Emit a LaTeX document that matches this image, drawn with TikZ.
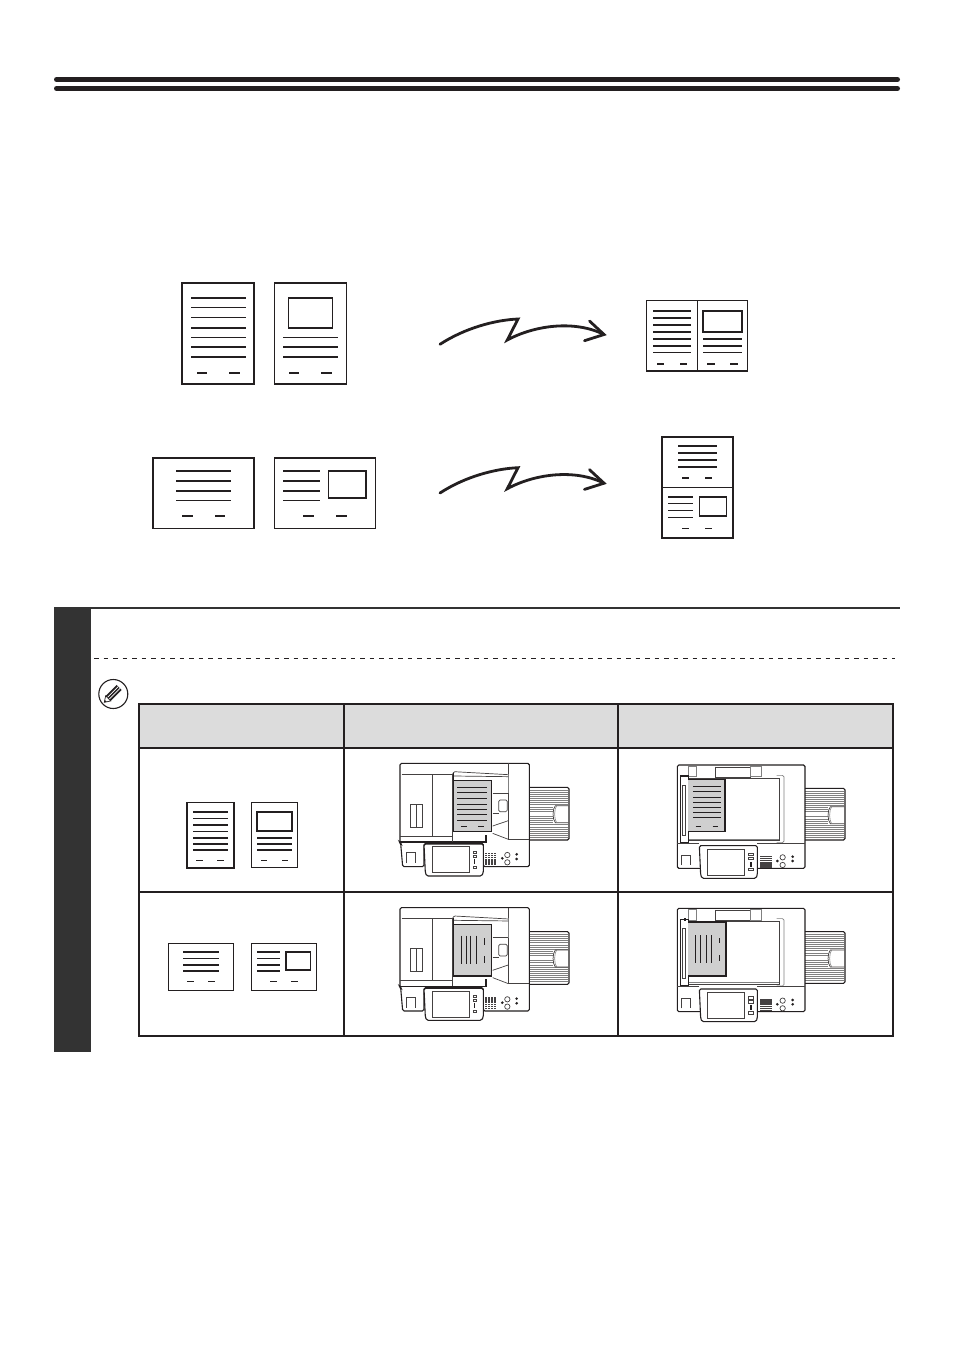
\documentclass[tikz,border=0pt]{standalone}
\definecolor{ink}{HTML}{231F20}
\definecolor{band}{HTML}{333333}
\definecolor{head}{HTML}{DCDCDC}
\definecolor{paper}{HTML}{CFCFCF}
\tikzset{
  sheet/.style={draw=ink,line width=1.9pt,fill=white},
  thinsheet/.style={draw=ink,line width=1.4pt,fill=white},
  thk/.style={draw=ink,line width=2pt},
  thn/.style={draw=ink,line width=1.1pt},
  sm/.style={draw=ink,line width=1.6pt},
  smt/.style={draw=ink,line width=0.9pt},
  mach/.style={draw=ink!85,line width=0.7pt},
  machb/.style={draw=ink,line width=1.1pt},
  machg/.style={draw=black!50,line width=0.6pt},
  squig/.style={draw=ink,line width=2.8pt,line cap=round,line join=miter},
  grid line/.style={draw=ink,line width=1.9pt},
}
\newcommand\hl[4]{\foreach \yy in {#4}{\draw[#1] (#2,\yy) -- (#3,\yy);}}
\newcommand\tray[5]{% x0 x1 ytop ybot tabx0
  \draw[machb,rounded corners=1.5pt,fill=white] (#1,#3) -- (#2,#3) -- (#2,#4) -- (#1,#4);
  \foreach \yy in {0.05,0.09,0.13,0.17,0.21,0.25,0.29,0.33,0.37,0.41,0.45,0.55,0.59,0.63,0.67,0.71,0.75,0.79,0.83,0.87,0.91,0.95}{
    \draw[machg] (#1,{#3+(#4-#3)*\yy}) -- ({#2-3},{#3+(#4-#3)*\yy});}
  \fill[white] (#5,#3+55) rectangle (#2-2,#3+106);
  \draw[mach] (#2-2,#3+55) -- (#5+6,#3+55) .. controls (#5-3,#3+65) and (#5-3,#3+96) .. (#5+6,#3+106) -- (#2-2,#3+106);
  \draw[machg] (#5+10,#3+55) .. controls (#5+2,#3+65) and (#5+2,#3+96) .. (#5+10,#3+106);
}
\newcommand\keys[2]{%
  \foreach \ix in {0,1,2,3}{\foreach \iy in {0,1,2,3,4,5}{
    \fill[ink!85] ({#1+\ix*9},{#2+\iy*6.2}) rectangle +(7,4);}}
}
\newcommand\machineA[2]{%
\begin{scope}[shift={(#1,#2)},x=0.3333pt,y=-0.3333pt]
  \tray{448}{567}{112}{270}{520}
  \draw[machb,fill=white,rounded corners=1.5pt] (60,278) -- (60,40) -- (448,40) -- (448,350) -- (310,350) -- (310,280) -- (132,280) -- (132,350) -- (68,350) -- (62,280) -- cycle;
  \draw[mach] (385,40) -- (385,72);
  \draw[machg] (385,72) -- (385,130);
  \draw[mach] (385,130) -- (385,268) -- (448,268);
  \draw[mach] (65,72) -- (218,72);
  \draw[mach] (157,72) -- (157,258);
  \draw[mach] (60,258) -- (218,258);
  \draw[machb] (60,276) -- (318,276) -- (318,255);
  \draw[mach] (218,72) -- (218,275);
  \draw[mach,rounded corners=1pt] (218,72) -- (222,65) -- (385,74);
  \draw[mach] (222,78) -- (385,80);
  \draw[mach] (92,162) rectangle (128,232);
  \draw[mach] (110,162) -- (110,232);
  \draw[mach] (338,130) -- (385,130);
  \draw[mach] (338,190) -- (356,190);
  \draw[mach,rounded corners=1.5pt] (356,150) rectangle (382,185);
  \draw[mach] (338,228) -- (385,212);
  \draw[mach] (338,250) -- (385,268);
  \draw[mach] (78,340) -- (78,308) -- (105,308) -- (105,340);
  \draw[machb,fill=white,rounded corners=1.5pt] (132,282) -- (310,282) -- (310,368) -- (305,378) -- (140,378) -- (136,368) -- cycle;
  \draw[mach] (157,290) rectangle (267,368);
  \foreach \yy in {303,315,348}{\draw[mach] (280,\yy) rectangle (288,\yy+7);}
  \fill[ink] (282,326) rectangle (286,342);
  \keys{314}{309}
  \draw[mach] (382,315) circle (8);
  \draw[mach] (382,337) circle (8);
  \foreach \xx/\yy in {410/313,410/327,367/325}{\draw[machb] (\xx,\yy) circle (2);}
\end{scope}}
\newcommand\machineB[2]{%
\begin{scope}[shift={(#1,#2)},x=0.3333pt,y=-0.3333pt]
  \tray{435}{555}{115}{270}{505}
  \draw[machb,fill=white,rounded corners=1.5pt] (52,355) -- (52,45) -- (435,45) -- (435,355) -- cycle;
  \draw[machg] (85,48) rectangle (110,80);
  \draw[mach] (167,50) -- (167,82) -- (272,82);
  \draw[mach] (167,52) -- (272,52);
  \draw[machg] (272,48) rectangle (305,80);
  \draw[mach] (85,84) -- (358,84) -- (358,272) -- (85,272);
  \draw[machg,line width=1.6pt] (85,268) -- (356,268);
  \draw[machg,rounded corners=1.5pt] (350,76) -- (372,76) -- (372,278) -- (350,278);
  \draw[machb,fill=white] (61,78) rectangle (85,277);
  \draw[mach] (67,105) rectangle (77,255);
  \fill[ink] (72,75) rectangle (78,82);
  \draw[mach] (52,280) -- (118,280);
  \draw[mach] (292,280) -- (435,280);
  \draw[mach] (65,345) -- (65,316) -- (92,316) -- (92,345);
  \draw[machb,fill=white,rounded corners=1.5pt] (118,287) -- (292,287) -- (292,375) -- (288,385) -- (126,385) -- (122,375) -- cycle;
  \draw[mach] (143,297) rectangle (253,375);
  \foreach \yy in {310,322,355}{\draw[mach] (266,\yy) rectangle (280,\yy+7);}
  \fill[ink] (271,335) rectangle (275,350);
  \keys{301}{318}
  \draw[mach] (368,322) circle (8);
  \draw[mach] (368,345) circle (8);
  \foreach \xx/\yy in {398/320,398/333,352/333}{\draw[machb] (\xx,\yy) circle (2);}
\end{scope}}
\newcommand\squiggle[1]{%
\begin{scope}[yshift=-#1pt]
  \coordinate (sa) at (440,344.3);
  \coordinate (sb) at (518,319);
  \coordinate (sc) at (507.3,340);
  \coordinate (sd) at (604,334.5);
  \draw[squig] (sa) .. controls (465,328) and (495,320) .. (sb) -- (sc) .. controls (535,325) and (575,320) .. (sd);
  \draw[squig] (589.5,321) -- (sd) -- (584.5,340.7);
\end{scope}}
\begin{document}
\begin{tikzpicture}[x=1pt,y=-1pt]
\useasboundingbox (0,0) rectangle (954,1350);
\fill[white] (0,0) rectangle (954,1350);
\draw[ink,line width=5pt,line cap=round] (56.5,79.5) -- (897.5,79.5);
\draw[ink,line width=5pt,line cap=round] (56.5,88.5) -- (897.5,88.5);
% originals, portrait
\draw[sheet] (182.3,282.7) rectangle (254.3,384.3);
\hl{thk}{191}{246}{298,328,347,357}
\hl{thn}{191}{246}{307.5,317.5,337.5}
\hl{thk}{197}{207}{373}
\hl{thk}{229}{240}{373}
\draw[sheet] (274.5,282.7) rectangle (346.5,384.3);
\draw[sheet] (288.5,298) rectangle (332.5,328);
\hl{thn}{283}{338}{337.5}
\hl{thk}{283}{338}{347,357}
\hl{thk}{289}{299}{373}
\hl{thk}{321}{332}{373}
% originals, landscape
\draw[sheet] (153,458) rectangle (254.3,528.5);
\hl{thk}{176}{231}{471,481,491}
\hl{thn}{176}{231}{500.5}
\hl{thk}{182}{193}{516}
\hl{thk}{215}{225}{516}
\draw[sheet] (274.5,458) rectangle (375.5,528.5);
\hl{thk}{283}{320}{471,481,491}
\hl{thn}{283}{320}{500.5}
\draw[sheet,line width=1.5pt] (328.5,471) rectangle (366,498);
\hl{thk}{303}{314}{516}
\hl{thk}{336}{347}{516}
% arrows
\squiggle{0}
\squiggle{148.7}
% result 1
\draw[sheet,line width=1.4pt] (646.7,300.7) rectangle (747.3,371);
\draw[thn] (697.7,300.7) -- (697.7,371);
\hl{thk}{653}{691}{310.7,318,325,332,339,346}
\hl{thn}{653}{691}{352.3}
\hl{thk}{657}{664}{363.7}
\hl{thk}{680}{687}{363.7}
\draw[sheet] (703,311) rectangle (741.7,332);
\hl{thk}{703}{742}{339,346}
\hl{thn}{703}{742}{352.3}
\hl{thk}{707}{715}{363.7}
\hl{thk}{730}{738}{363.7}
% result 2
\draw[sheet] (661.7,436.7) rectangle (733.3,538);
\draw[thn] (661.7,487.3) -- (733.3,487.3);
\hl{thk}{678.3}{716.7}{445.7,453,460,467}
\hl{thk}{682.3}{689}{478}
\hl{thk}{705.3}{712}{478}
\hl{thk}{668}{692.7}{496.7}
\hl{thn}{668}{692.7}{503.3,510.3,517.3}
\draw[sheet,line width=1.6pt] (699.3,496.7) rectangle (726.3,516);
\hl{thn}{682.3}{689}{528.3}
\hl{thn}{705.3}{712}{528.3}
% step block
\fill[band] (54,607) rectangle (91,1052);
\draw[band,line width=2pt] (54,608) -- (900,608);
\draw[ink,line width=1pt,dash pattern=on 4.6pt off 4.9pt] (94,658.5) -- (895,658.5);
% note icon
\draw[ink,line width=1.1pt,fill=white] (113.3,694) circle (14.5);
\begin{scope}[shift={(104.3,702.3)},rotate=45]
  \fill[white,draw=ink,line width=0.7pt] (0,0) -- (5.5,-3.6) -- (5.5,3.6) -- cycle;
  \fill[ink] (5.5,-3.6) rectangle (21,3.6);
  \draw[white,line width=0.7pt] (6,-1.2) -- (21,-1.2) (6,1.2) -- (21,1.2);
  \fill[ink] (0,0) -- (2,-1.3) -- (2,1.3) -- cycle;
\end{scope}
% table
\fill[head] (139,704) rectangle (893,748);
\draw[grid line] (139,704) rectangle (893,1036);
\draw[ink,line width=1.2pt] (139,748) -- (893,748);
\draw[grid line] (139,892) -- (893,892);
\foreach \xx in {344,618}{\draw[grid line] (\xx,704) -- (\xx,1036);}
% table originals
\draw[thinsheet,line width=1.6pt] (186.7,802.3) rectangle (233.7,867.7);
\hl{sm}{193.3}{228}{812,824.7,837.7,843.7,850}
\hl{smt}{193.3}{228}{818.3,831.3}
\hl{smt}{196}{202.7}{860.3}
\hl{smt}{217}{224}{860.3}
\draw[thinsheet,line width=1pt] (251.3,802.3) rectangle (297.7,867.7);
\draw[sheet] (256.8,811.9) rectangle (292.4,831.1);
\hl{sm}{257}{292}{837.7,843.7,850}
\hl{smt}{261}{267}{860.3}
\hl{smt}{282}{288}{860.3}
\draw[thinsheet] (168.3,943.7) rectangle (233.7,990.3);
\hl{sm}{183}{219}{951.7,964.7,971}
\hl{smt}{183}{219}{958.3}
\hl{smt}{187}{194}{981.3}
\hl{smt}{208}{215}{981.3}
\draw[thinsheet] (251.3,943.7) rectangle (316.7,990.3);
\hl{sm}{257}{280}{951.7,964.7,971}
\hl{smt}{257}{280}{958.3}
\draw[sheet] (285.9,951.9) rectangle (310.5,970.1);
\hl{smt}{270}{277}{981.3}
\hl{smt}{291}{298}{981.3}
% machines
\machineA{380}{750}
\begin{scope}[shift={(380,750)},x=0.3333pt,y=-0.3333pt]
  \draw[ink,fill=paper,line width=0.7pt] (220,92) rectangle (335,245);
  \draw[ink,line width=1.4pt] (220,245) -- (335,245) -- (335,92);
  \draw[ink,line width=1.4pt] (220,70) -- (220,245);
  \hl{smt,line width=0.65pt}{232}{322}{113,128,145,162,178,194,210}
  \hl{smt,line width=0.65pt}{243}{262}{230}
  \hl{smt,line width=0.65pt}{295}{312}{230}
\end{scope}
\machineA{380}{894.3}
\begin{scope}[shift={(380,895)},x=0.3333pt,y=-0.3333pt]
  \draw[ink,fill=paper,line width=0.9pt] (220,89) rectangle (335,243);
  \draw[ink,line width=1.6pt] (220,243) -- (335,243) -- (335,89) -- (220,89);
  \draw[ink,line width=1.4pt] (220,70) -- (220,243);
  \foreach \xx in {243,258,272,288}{\draw[ink,line width=0.7pt] (\xx,122) -- (\xx,208);}
  \draw[ink,line width=0.7pt] (314,130) -- (314,150) (314,183) -- (314,203);
\end{scope}
\machineB{660}{750}
\begin{scope}[shift={(660,750)},x=0.3333pt,y=-0.3333pt]
  \draw[draw=none,fill=paper] (85,88) rectangle (195,244);
  \draw[ink,line width=1.2pt] (85,244) -- (195,244) -- (195,88) -- (85,88);
  \hl{smt,line width=0.65pt}{100}{184}{110,125,141,156,171,186,201}
  \hl{smt,line width=0.65pt}{107}{122}{228}
  \hl{smt,line width=0.65pt}{158}{174}{228}
\end{scope}
\machineB{660}{893.3}
\begin{scope}[shift={(660,895)},x=0.3333pt,y=-0.3333pt]
  \draw[draw=none,fill=paper] (85,82) rectangle (198,242);
  \draw[ink,line width=1.7pt] (85,242) -- (198,242) -- (198,82) -- (85,82);
  \foreach \xx in {106,122,139,155}{\draw[ink,line width=0.7pt] (\xx,120) -- (\xx,205);}
  \draw[ink,line width=0.7pt] (178,130) -- (178,145) (178,180) -- (178,197);
\end{scope}
\end{tikzpicture}
\end{document}
